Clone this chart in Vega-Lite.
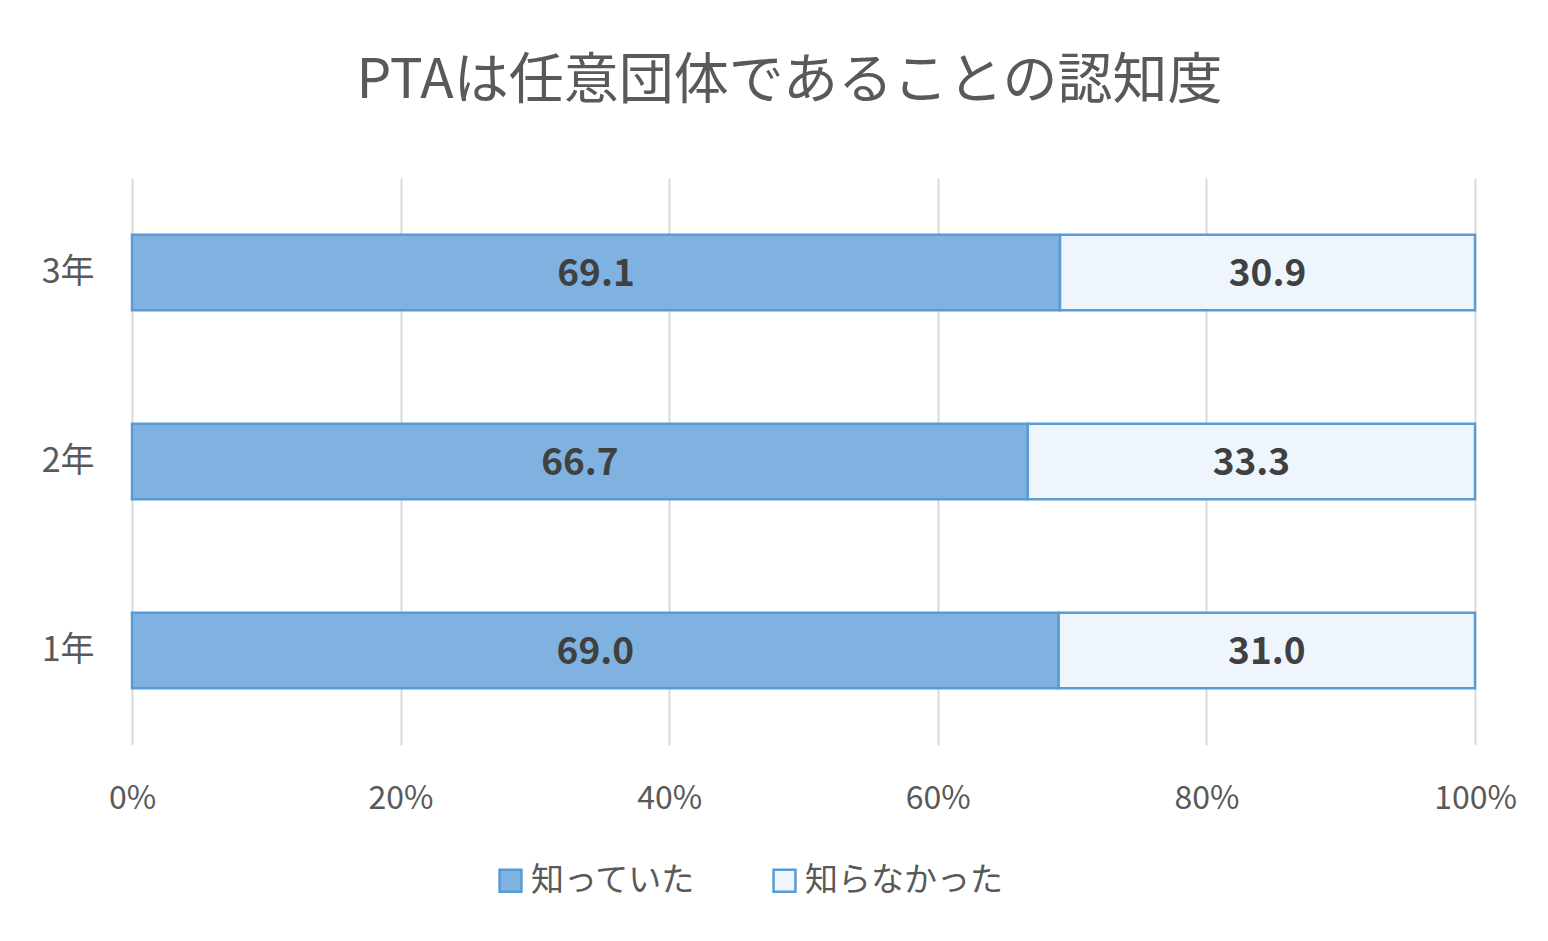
{
  "$schema": "https://vega.github.io/schema/vega-lite/v6.json",
  "width": 1343,
  "height": 567,
  "autosize": {"type": "none"},
  "padding": {"left": 132, "top": 178, "right": 73, "bottom": 196},
  "background": "white",
  "title": {
    "text": "PTAは任意団体であることの認知度",
    "fontSize": 55,
    "font": "Noto Sans CJK JP",
    "fontWeight": "normal",
    "color": "#595959",
    "anchor": "middle",
    "offset": 68,
    "dx": -14
  },
  "config": {
    "view": {"stroke": null},
    "font": "Noto Sans CJK JP"
  },
  "data": {
    "values": [
      {"grade": "3年", "answer": "知っていた", "order": 1, "value": 69.1},
      {"grade": "3年", "answer": "知らなかった", "order": 2, "value": 30.9},
      {"grade": "2年", "answer": "知っていた", "order": 1, "value": 66.7},
      {"grade": "2年", "answer": "知らなかった", "order": 2, "value": 33.3},
      {"grade": "1年", "answer": "知っていた", "order": 1, "value": 69.0},
      {"grade": "1年", "answer": "知らなかった", "order": 2, "value": 31.0}
    ]
  },
  "transform": [
    {"stack": "value", "groupby": ["grade"], "sort": [{"field": "order"}], "as": ["v0", "v1"]},
    {"calculate": "(datum.v0 + datum.v1) / 2", "as": "mid"}
  ],
  "encoding": {
    "y": {
      "field": "grade",
      "type": "nominal",
      "sort": ["3年", "2年", "1年"],
      "scale": {"paddingInner": 0.6, "paddingOuter": 0.3},
      "axis": {
        "title": null,
        "domain": false,
        "ticks": false,
        "labelFontSize": 34,
        "labelColor": "#595959",
        "labelPadding": 38,
        "labelFont": "Noto Sans CJK JP"
      }
    }
  },
  "layer": [
    {
      "mark": {"type": "bar", "stroke": "#5b9bd5", "strokeWidth": 2.5},
      "encoding": {
        "x": {
          "field": "v0",
          "type": "quantitative",
          "scale": {"domain": [0, 100]},
          "axis": {
            "title": null,
            "values": [0, 20, 40, 60, 80, 100],
            "labelExpr": "datum.value + '%'",
            "labelFontSize": 32,
            "labelColor": "#595959",
            "labelPadding": 38,
            "labelFlush": false,
            "labelAlign": "center",
            "domain": false,
            "ticks": false,
            "grid": true,
            "gridColor": "#d9d9d9",
            "gridWidth": 2,
            "labelFont": "Noto Sans CJK JP"
          }
        },
        "x2": {"field": "v1"},
        "fill": {
          "field": "answer",
          "type": "nominal",
          "sort": ["知っていた", "知らなかった"],
          "scale": {"domain": ["知っていた", "知らなかった"], "range": ["#7fb2e1", "#eef5fc"]},
          "legend": {
            "title": null,
            "orient": "none",
            "direction": "horizontal",
            "legendX": 362,
            "legendY": 686,
            "symbolType": "square",
            "symbolSize": 480,
            "symbolStrokeColor": "#5b9bd5",
            "symbolStrokeWidth": 2.5,
            "labelFontSize": 33,
            "labelColor": "#595959",
            "labelFont": "Noto Sans CJK JP",
            "labelLimit": 0,
            "columnPadding": 72,
            "labelOffset": 4
          }
        }
      }
    },
    {
      "mark": {"type": "text", "fontSize": 37, "fontWeight": "bold", "color": "#404040", "font": "Noto Sans CJK JP", "baseline": "middle", "dy": 2},
      "encoding": {
        "x": {"field": "mid", "type": "quantitative"},
        "text": {"field": "value", "type": "quantitative", "format": ".1f"}
      }
    }
  ]
}
